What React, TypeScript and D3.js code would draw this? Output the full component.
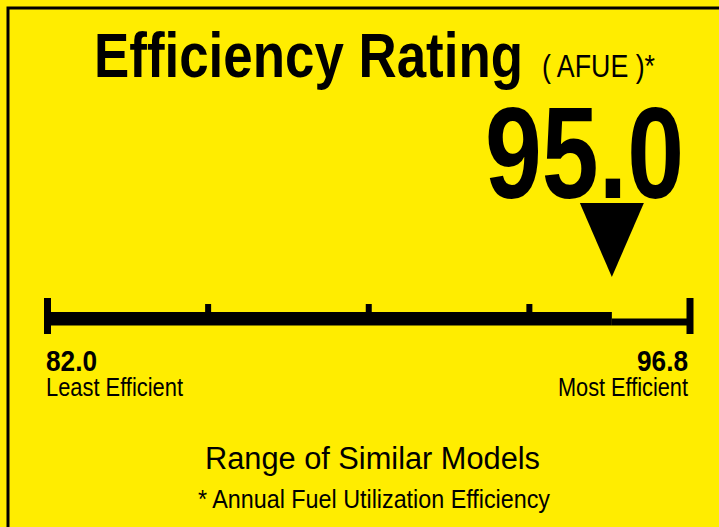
import React from "react";
import * as d3 from "d3";

const titleText = "Efficiency Rating";
const unitText = "( AFUE )*";
const minValue = 82.0;
const maxValue = 96.8;
const ratingValue = 95.0;
const tickValues = [85.7, 89.4, 93.1];
const endLabels = ["Least Efficient", "Most Efficient"];
const footerTitle = "Range of Similar Models";
const footerNote = "* Annual Fuel Utilization Efficiency";

const W = 719;
const H = 527;
const YELLOW = "#FFED00";
const FONT = "'Liberation Sans Narrow', 'Liberation Sans', Arial, sans-serif";

export default function App() {
  const x = d3.scaleLinear().domain([minValue, maxValue]).range([47.5, 690]);
  const xr = x(ratingValue);
  const tri = d3.path();
  tri.moveTo(xr - 32, 203);
  tri.lineTo(xr + 32, 203);
  tri.lineTo(xr, 277);
  tri.closePath();

  return (
    <svg
      width={W}
      height={H}
      style={{ position: "absolute", left: 0, top: 0, display: "block" }}
      fontFamily={FONT}
    >
      <rect x={0} y={0} width={W} height={H} fill={YELLOW} />
      <rect x={8} y={8} width={W + 20} height={H + 20} fill="none" stroke="#000" strokeWidth={3} />

      <text x={94} y={77} fontSize={63} fontWeight="bold" textLength={429} lengthAdjust="spacingAndGlyphs">
        {titleText}
      </text>
      <text x={542} y={77} fontSize={31} textLength={113} lengthAdjust="spacingAndGlyphs">
        {unitText}
      </text>

      <text x={485} y={198} fontSize={130} fontWeight="bold" textLength={199} lengthAdjust="spacingAndGlyphs">
        {ratingValue.toFixed(1)}
      </text>
      <path d={tri.toString()} fill="#000" />

      {/* scale bar */}
      <rect x={x(minValue)} y={312} width={xr - x(minValue)} height={13.5} fill="#000" />
      <rect x={xr} y={318.5} width={x(maxValue) - xr} height={7} fill="#000" />
      <rect x={x(minValue) - 3.5} y={298} width={7} height={36} fill="#000" />
      <rect x={x(maxValue) - 3.5} y={298} width={7} height={36} fill="#000" />
      {tickValues.map((t) => (
        <rect key={t} x={x(t) - 3} y={304} width={6} height={10} fill="#000" />
      ))}

      <text x={46} y={371} fontSize={30} fontWeight="bold" textLength={51} lengthAdjust="spacingAndGlyphs">
        {minValue.toFixed(1)}
      </text>
      <text x={46} y={396} fontSize={25} textLength={137} lengthAdjust="spacingAndGlyphs">
        {endLabels[0]}
      </text>
      <text x={688} y={371} fontSize={30} fontWeight="bold" textAnchor="end" textLength={51} lengthAdjust="spacingAndGlyphs">
        {maxValue.toFixed(1)}
      </text>
      <text x={688} y={396} fontSize={25} textAnchor="end" textLength={130} lengthAdjust="spacingAndGlyphs">
        {endLabels[1]}
      </text>

      <text x={205} y={469} fontSize={31} textLength={335} lengthAdjust="spacingAndGlyphs">
        {footerTitle}
      </text>
      <text x={198} y={508} fontSize={25} textLength={352} lengthAdjust="spacingAndGlyphs">
        {footerNote}
      </text>
    </svg>
  );
}
